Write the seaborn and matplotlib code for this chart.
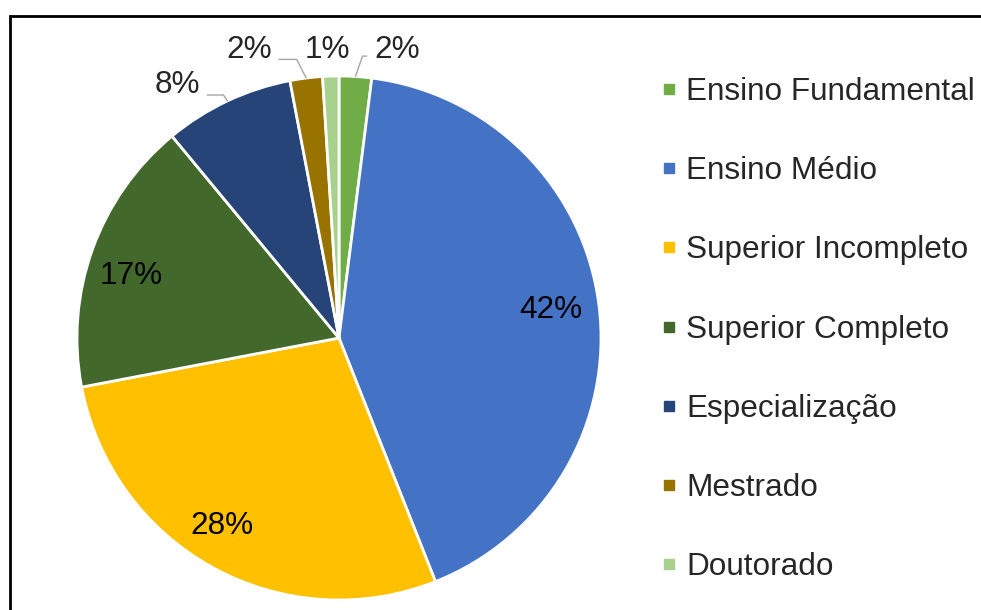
import numpy as np
import matplotlib.pyplot as plt
from matplotlib.lines import Line2D
from matplotlib.patches import Rectangle
import seaborn as sns

# dados do gráfico (escolaridade)
categorias = ["Ensino Fundamental", "Ensino Médio", "Superior Incompleto",
              "Superior Completo", "Especialização", "Mestrado", "Doutorado"]
percentuais = [2, 42, 28, 17, 8, 2, 1]
cores = ["#70AD47", "#4472C4", "#FFC000", "#43682B", "#264478", "#997300", "#A9D18E"]

sns.set_theme(style="white")
plt.rcParams["font.family"] = ["Liberation Sans", "DejaVu Sans"]

W, H = 981, 610
FS = 22.7
fig = plt.figure(figsize=(W / 100, H / 100), dpi=100)

# eixo quadrado: centro (339, 338) px, raio 262 px
cx, cy, R = 339, 338, 262
ax = fig.add_axes([(cx - R) / W, (H - cy - R) / H, 2 * R / W, 2 * R / H])
wedges, _ = ax.pie(percentuais, colors=cores, startangle=90, counterclock=False,
                   wedgeprops=dict(edgecolor="white", linewidth=2))
ax.set_xlim(-1, 1)
ax.set_ylim(-1, 1)
ax.axis("off")

# posição dos rótulos internos
internos = {1: (0.809, 0.108), 2: (-0.446, -0.716), 3: (-0.794, 0.238)}

# rótulos externos das fatias pequenas: posição do texto, relpos e ângulo da linha
externos = {
    4: ((-0.618, 0.964), (1.0, 0.18), 124),
    5: ((-0.344, 1.100), (1.0, 0.18), 117),
    6: ((-0.046, 1.100), None, None),
    0: ((0.221, 1.100), (0.0, 0.29), 71),
}

for i, (w, p) in enumerate(zip(wedges, percentuais)):
    mid = np.deg2rad((w.theta1 + w.theta2) / 2)
    if i in externos:
        pos, rel, ang = externos[i]
        if rel is None:
            ax.text(pos[0], pos[1], f"{p}%", ha="center", va="center",
                    fontsize=FS, color="#262626")
            continue
        ax.annotate(f"{p}%", xy=(np.cos(mid), np.sin(mid)), xytext=pos,
                    ha="center", va="center", fontsize=FS, color="#262626",
                    arrowprops=dict(arrowstyle="-", color="#A6A6A6", lw=1,
                                    shrinkA=3, shrinkB=0, relpos=rel,
                                    connectionstyle=f"angle,angleA=0,angleB={ang},rad=0"))
    else:
        ax.text(*internos[i], f"{p}%", ha="center", va="center",
                fontsize=FS, color="black")

handles = [Line2D([], [], marker="s", ls="", color=c, markersize=7) for c in cores]
fig.legend(handles, categorias, loc="upper left", bbox_to_anchor=(661 / W, 1 - 77 / H),
           frameon=False, fontsize=FS, labelspacing=1.56, handlelength=0.5,
           handletextpad=0.3, borderaxespad=0, borderpad=0)

# moldura
fig.add_artist(Rectangle((10 / W, -0.02), 1.05, (H - 16) / H + 0.02,
                         transform=fig.transFigure, fill=False, lw=2, ec="black"))

fig.savefig("out.png", dpi=100)
